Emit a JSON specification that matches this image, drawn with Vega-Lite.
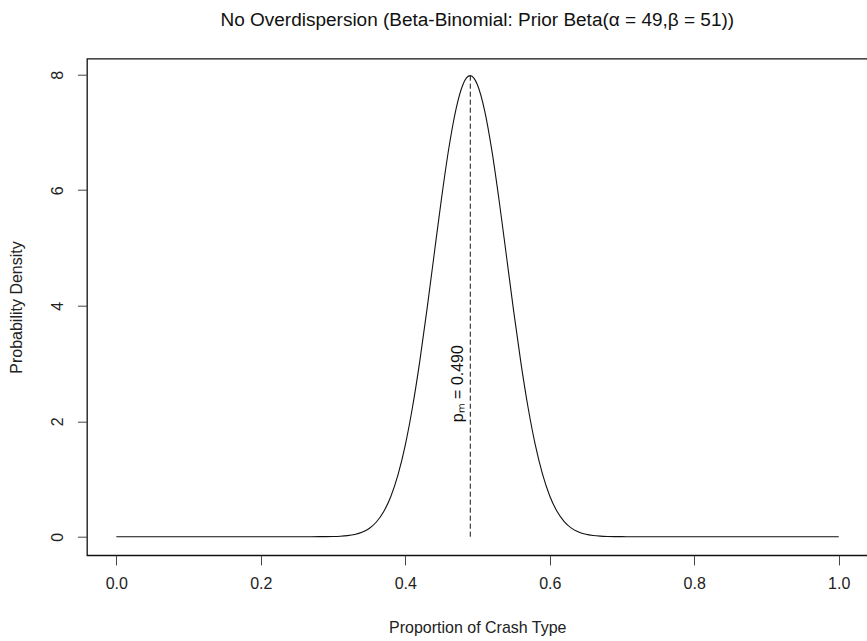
{
  "$schema": "https://vega.github.io/schema/vega-lite/v6.json",
  "autosize": "none",
  "width": 780.6,
  "height": 496.6,
  "padding": {"left": 87, "top": 58.7, "right": 0, "bottom": 85.7},
  "background": "white",
  "title": {
    "text": "No Overdispersion (Beta-Binomial: Prior Beta(α = 49,β = 51))",
    "font": "Liberation Sans",
    "fontSize": 19,
    "fontWeight": "normal",
    "color": "#111",
    "anchor": "middle",
    "baseline": "alphabetic",
    "offset": 14
  },
  "config": {
    "view": {"stroke": "#111", "strokeWidth": 1.3},
    "axis": {
      "grid": false,
      "domain": false,
      "labelFont": "Liberation Sans",
      "labelFontSize": 16,
      "labelColor": "#222",
      "titleFont": "Liberation Sans",
      "titleFontSize": 16,
      "titleFontWeight": "normal",
      "titleColor": "#222",
      "tickColor": "#444",
      "tickSize": 9.6,
      "tickWidth": 1
    }
  },
  "datasets": {
    "curve": [
      {"x": 0.0, "density": 0},
      {"x": 0.1, "density": 0},
      {"x": 0.2, "density": 0},
      {"x": 0.26, "density": 0},
      {"x": 0.27, "density": 0.0002},
      {"x": 0.28, "density": 0.0005},
      {"x": 0.29, "density": 0.0014},
      {"x": 0.30, "density": 0.0036},
      {"x": 0.31, "density": 0.0084},
      {"x": 0.32, "density": 0.0185},
      {"x": 0.33, "density": 0.0386},
      {"x": 0.34, "density": 0.0763},
      {"x": 0.35, "density": 0.1430},
      {"x": 0.36, "density": 0.2546},
      {"x": 0.37, "density": 0.4316},
      {"x": 0.38, "density": 0.6974},
      {"x": 0.39, "density": 1.0762},
      {"x": 0.40, "density": 1.5876},
      {"x": 0.41, "density": 2.2415},
      {"x": 0.42, "density": 3.0316},
      {"x": 0.43, "density": 3.9312},
      {"x": 0.44, "density": 4.8918},
      {"x": 0.45, "density": 5.8429},
      {"x": 0.46, "density": 6.7045},
      {"x": 0.47, "density": 7.3925},
      {"x": 0.48, "density": 7.8354},
      {"x": 0.485, "density": 7.9484},
      {"x": 0.49, "density": 7.9838},
      {"x": 0.495, "density": 7.9416},
      {"x": 0.50, "density": 7.8228},
      {"x": 0.51, "density": 7.3705},
      {"x": 0.52, "density": 6.6763},
      {"x": 0.53, "density": 5.8134},
      {"x": 0.54, "density": 4.8655},
      {"x": 0.55, "density": 3.9113},
      {"x": 0.56, "density": 3.0198},
      {"x": 0.57, "density": 2.2373},
      {"x": 0.58, "density": 1.5897},
      {"x": 0.59, "density": 1.0824},
      {"x": 0.60, "density": 0.7056},
      {"x": 0.61, "density": 0.4399},
      {"x": 0.62, "density": 0.2620},
      {"x": 0.63, "density": 0.1489},
      {"x": 0.64, "density": 0.0806},
      {"x": 0.65, "density": 0.0415},
      {"x": 0.66, "density": 0.0203},
      {"x": 0.67, "density": 0.0094},
      {"x": 0.68, "density": 0.0041},
      {"x": 0.69, "density": 0.0017},
      {"x": 0.70, "density": 0.0007},
      {"x": 0.71, "density": 0.0002},
      {"x": 0.72, "density": 0},
      {"x": 0.8, "density": 0},
      {"x": 0.9, "density": 0},
      {"x": 1.0, "density": 0}
    ],
    "marker": [
      {"x": 0.49, "labelX": 0.4845, "y0": 0, "peak": 7.98, "labelY": 2.65, "label": "pₘ = 0.490"}
    ]
  },
  "encoding": {
    "x": {
      "field": "x",
      "type": "quantitative",
      "scale": {"domain": [-0.0406, 1.04], "nice": false, "zero": false},
      "axis": {
        "title": "Proportion of Crash Type",
        "values": [0, 0.2, 0.4, 0.6, 0.8, 1.0],
        "format": ".1f",
        "labelPadding": 11,
        "titleY": 72,
        "titleBaseline": "middle"
      }
    }
  },
  "layer": [
    {
      "data": {"name": "curve"},
      "mark": {"type": "line", "color": "#111", "strokeWidth": 1.1, "interpolate": "monotone"},
      "encoding": {
        "y": {
          "field": "density",
          "type": "quantitative",
          "scale": {"domain": [-0.322, 8.277], "nice": false, "zero": false},
          "axis": {
            "title": "Probability Density",
            "values": [0, 2, 4, 6, 8],
            "format": "d",
            "labelAngle": 270,
            "labelAlign": "center",
            "labelBaseline": "bottom",
            "labelPadding": 12,
            "titleX": -70,
            "titleBaseline": "middle"
          }
        }
      }
    },
    {
      "data": {"name": "marker"},
      "mark": {"type": "rule", "color": "#111", "strokeWidth": 1, "strokeDash": [5, 3]},
      "encoding": {
        "y": {"field": "y0", "type": "quantitative"},
        "y2": {"field": "peak"}
      }
    },
    {
      "data": {"name": "marker"},
      "mark": {"type": "text", "font": "Liberation Sans", "fontSize": 16, "color": "#111", "angle": 270, "align": "center", "baseline": "bottom"},
      "encoding": {
        "x": {"field": "labelX", "type": "quantitative"},
        "y": {"field": "labelY", "type": "quantitative"},
        "text": {"field": "label"}
      }
    }
  ]
}
